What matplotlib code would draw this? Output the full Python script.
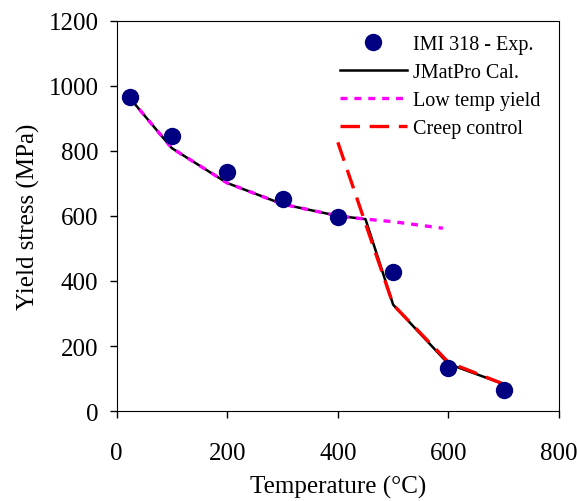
import matplotlib
matplotlib.use("Agg")
import matplotlib.pyplot as plt

plt.rcParams['font.family'] = ['Liberation Serif', 'DejaVu Serif']
plt.rcParams['lines.scale_dashes'] = False

# experimental points
exp_temp = [25, 100, 200, 300, 400, 500, 600, 700]
exp_stress = [964, 846, 734, 651, 596, 426, 132, 65]

# JMatPro calculation
calc_temp = [25, 100, 200, 300, 400, 450, 500, 600, 700]
calc_stress = [960, 808, 701, 636, 600, 590, 327, 145, 83]

# low temperature yield
low_temp = [25, 100, 200, 300, 400, 450, 500, 590]
low_stress = [960, 808, 701, 636, 600, 590, 582, 562]

# creep control
creep_temp = [400, 500, 600, 700]
creep_stress = [826, 327, 150, 83]

fig = plt.figure(figsize=(5.77, 5.02), dpi=100)
ax = fig.add_axes([0.202, 0.179, 0.767, 0.778])

ax.plot(low_temp, low_stress, color='#ff00ff', lw=2.4, dashes=(5, 5),
        label='Low temp yield', zorder=3)
ax.plot(creep_temp, creep_stress, color='#ff0000', lw=2.4, dashes=(14, 7),
        label='Creep control', zorder=3)
ax.plot(calc_temp, calc_stress, color='black', lw=1.8, label='JMatPro Cal.', zorder=2)
ax.plot(exp_temp, exp_stress, 'o', color='#000080', ms=11.5, ls='none',
        label='IMI 318 - Exp.', zorder=4)

ax.set_xlim(0, 800)
ax.set_ylim(0, 1200)
ax.set_xticks(range(0, 801, 200))
ax.set_yticks(range(0, 1201, 200))
ax.tick_params(direction='out', length=5, width=1, labelsize=18)
ax.tick_params(axis='x', pad=17)
ax.tick_params(axis='y', pad=8)
ax.set_xlabel('Temperature (°C)', fontsize=18, labelpad=8)
ax.set_ylabel('Yield stress (MPa)', fontsize=18, labelpad=6)

handles, labels = ax.get_legend_handles_labels()
order = [3, 2, 0, 1]
ax.legend([handles[i] for i in order], [labels[i] for i in order],
          loc='upper right', bbox_to_anchor=(0.975, 0.985), borderaxespad=0,
          frameon=False, fontsize=14.5, handlelength=3.3,
          handletextpad=0.3, labelspacing=0.45)

fig.savefig('out.png', dpi=100)
